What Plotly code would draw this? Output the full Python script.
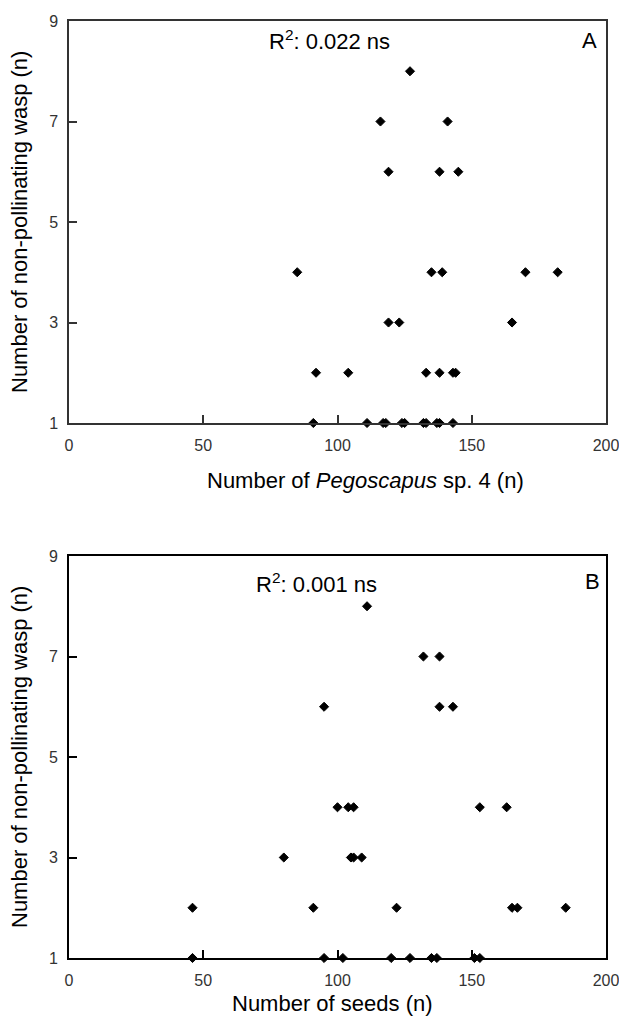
import plotly.graph_objects as go

# Panel A: Number of Pegoscapus sp. 4 vs non-pollinating wasps
a_pegoscapus = [127, 116, 141, 119, 138, 145,
                85, 135, 139, 170, 182,
                119, 123, 165,
                92, 104, 133, 138, 143, 144,
                91, 111, 117, 118, 124, 125, 132, 133, 137, 138, 143]
a_wasps = [8, 7, 7, 6, 6, 6,
           4, 4, 4, 4, 4,
           3, 3, 3,
           2, 2, 2, 2, 2, 2,
           1, 1, 1, 1, 1, 1, 1, 1, 1, 1, 1]

# Panel B: Number of seeds vs non-pollinating wasps
b_seeds = [111, 132, 138, 95, 138, 143,
           100, 104, 106, 153, 163,
           80, 105, 106, 109,
           46, 91, 122, 165, 167, 185,
           46, 95, 102, 120, 127, 135, 137, 151, 153]
b_wasps = [8, 7, 7, 6, 6, 6,
           4, 4, 4, 4, 4,
           3, 3, 3, 3,
           2, 2, 2, 2, 2, 2,
           1, 1, 1, 1, 1, 1, 1, 1, 1]

x_ticks = [0, 50, 100, 150, 200]
y_ticks = [1, 3, 5, 7, 9]

W, H = 619, 1022
xl, xr = 69, 606
a_top, a_bot = 21, 423
b_top, b_bot = 556, 958

def px(p):
    return p / W

def py(p):
    return 1 - p / H

marker = dict(symbol="diamond", size=7, color="black", line=dict(color="black", width=1))

fig = go.Figure()
fig.add_trace(go.Scatter(x=a_pegoscapus, y=a_wasps, mode="markers", marker=marker,
                         xaxis="x", yaxis="y", showlegend=False, cliponaxis=False))
fig.add_trace(go.Scatter(x=b_seeds, y=b_wasps, mode="markers", marker=marker,
                         xaxis="x2", yaxis="y2", showlegend=False, cliponaxis=False))

tickfont = dict(family="Liberation Sans Narrow, Liberation Sans, Arial", size=16, color="#333")
textfont = dict(family="Liberation Sans, Arial", size=22, color="black")

def xax(anchor, color, width):
    return dict(domain=[px(xl), px(xr)], range=[0, 200], tickvals=x_ticks,
                ticks="inside", ticklen=8, tickwidth=1.5, tickcolor=color,
                showline=True, linecolor=color, linewidth=width, mirror=True,
                showgrid=False, zeroline=False, tickfont=tickfont, automargin=False,
                ticklabelstandoff=7, ticklabeloverflow="allow", anchor=anchor)

def yax(anchor, dom, color, width):
    return dict(domain=dom, range=[1, 9], tickvals=y_ticks,
                ticks="inside", ticklen=8, tickwidth=1.5, tickcolor=color,
                showline=True, linecolor=color, linewidth=width, mirror=True,
                showgrid=False, zeroline=False, tickfont=tickfont, automargin=False,
                ticklabelstandoff=6, ticklabeloverflow="allow", anchor=anchor)

fig.update_layout(
    width=W, height=H,
    margin=dict(l=0, r=0, t=0, b=0, autoexpand=False),
    paper_bgcolor="white", plot_bgcolor="white",
    xaxis=xax("y", "#333", 1.5),
    yaxis=yax("x", [py(a_bot), py(a_top)], "#333", 1.5),
    xaxis2=xax("y2", "black", 2),
    yaxis2=yax("x2", [py(b_bot), py(b_top)], "black", 2),
)

ann = []
# in-plot texts
ann.append(dict(x=97, y=8.62, xref="x", yref="y", text="R<sup>2</sup>: 0.022 ns",
                showarrow=False, font=textfont, xanchor="center", yanchor="middle"))
ann.append(dict(x=194, y=8.62, xref="x", yref="y", text="A",
                showarrow=False, font=textfont, xanchor="center", yanchor="middle"))
ann.append(dict(x=92, y=8.47, xref="x2", yref="y2", text="R<sup>2</sup>: 0.001 ns",
                showarrow=False, font=textfont, xanchor="center", yanchor="middle"))
ann.append(dict(x=195, y=8.5, xref="x2", yref="y2", text="B",
                showarrow=False, font=textfont, xanchor="center", yanchor="middle"))
# axis titles
ann.append(dict(x=px(365), y=py(480), xref="paper", yref="paper",
                text="Number of <i>Pegoscapus</i> sp. 4 (n)", showarrow=False, font=textfont,
                xanchor="center", yanchor="middle"))
ann.append(dict(x=px(333), y=py(1003), xref="paper", yref="paper",
                text="Number of seeds (n)", showarrow=False, font=textfont,
                xanchor="center", yanchor="middle"))
ann.append(dict(x=px(19), y=py((a_top + a_bot) / 2), xref="paper", yref="paper",
                text="Number of non-pollinating wasp (n)", textangle=-90,
                showarrow=False, font=textfont, xanchor="center", yanchor="middle"))
ann.append(dict(x=px(19), y=py((b_top + b_bot) / 2), xref="paper", yref="paper",
                text="Number of non-pollinating wasp (n)", textangle=-90,
                showarrow=False, font=textfont, xanchor="center", yanchor="middle"))
fig.update_layout(annotations=ann)

fig.write_html("out.html",
               config={"displayModeBar": False},
               post_script="document.body.style.margin='0';document.body.style.overflow='hidden';")
